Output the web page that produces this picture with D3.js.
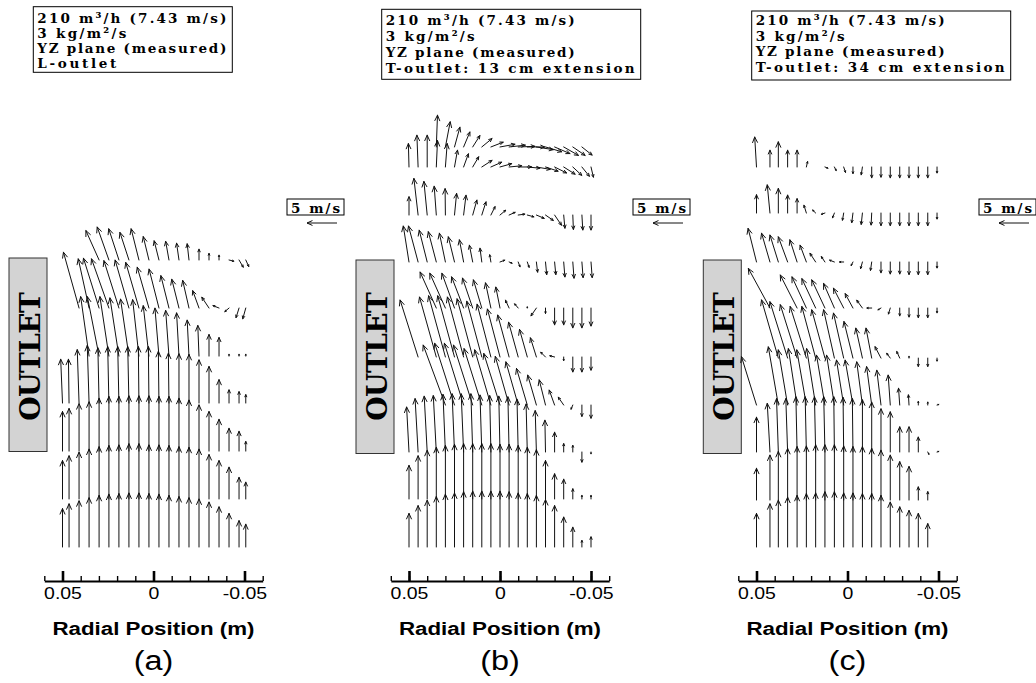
<!DOCTYPE html>
<html>
<head>
<meta charset="utf-8">
<script src="https://cdn.jsdelivr.net/npm/d3@7"></script>
<style>
  body { margin: 0; background: #fff; }
  svg { display: block; }
</style>
</head>
<body>
<svg id="chart" width="1036" height="683"></svg>
<script>
// ---- data (radial position in m, axial level in m, velocities in m/s) ----
// u = radial component (positive towards +r, i.e. to the left), v = axial component (up)

const headerA = ["210 m³/h (7.43 m/s)", "3 kg/m²/s", "YZ plane (measured)", "L-outlet"];
const headerB = ["210 m³/h (7.43 m/s)", "3 kg/m²/s", "YZ plane (measured)", "T-outlet: 13 cm extension"];
const headerC = ["210 m³/h (7.43 m/s)", "3 kg/m²/s", "YZ plane (measured)", "T-outlet: 34 cm extension"];
const panelTags = ["(a)", "(b)", "(c)"];

const tickMinor = [0.06, 0.05, 0.04, 0.03, 0.02, 0.01, 0, -0.01, -0.02, -0.03, -0.04, -0.05, -0.06];
const tickMajor = [0.05, 0, -0.05];
const tickLabels = ["0.05", "0", "-0.05"];

// panel (a)
const colsA = [0.05, 0.0464, 0.0409, 0.0354, 0.0299, 0.0245, 0.019, 0.0135, 0.008, 0.0025,
  -0.003, -0.0085, -0.014, -0.0195, -0.025, -0.0305, -0.036, -0.0415, -0.047, -0.0507];
const levelsA = [0.1577, 0.1313, 0.1049, 0.0791, 0.0527, 0.0264, 0];
const vA = [
  [null, null, null, null, 4.9, 5.5, 5.2, 4.6, 5.2, 3.9, 3.2, 3.1, 2.8, 2.7, 1.8, 1.1, 0.8, -0.2, -1.2, -1.1],
  [null, null, 9.3, 8.2, 8.3, 8.2, 7.9, 8.0, 7.6, 6.8, 6.5, 5.4, 4.8, 4.6, 2.9, 1.8, 0.4, -0.6, -1.6, -1.8],
  [null, null, null, 9.9, 9.9, 9.9, 9.7, 9.5, 9.4, 8.4, 8.0, 7.6, 7.2, 6.0, 5.1, 3.6, 3.1, 0.3, 0.3, 0.3],
  [7.3, 7.3, 8.9, 9.6, 9.2, 9.4, 9.4, 9.4, 9.4, 9.4, 8.6, 8.3, 8.2, 8.1, 7.2, 6.1, 3.9, 2.2, 1.9, 1.4],
  [6.6, 7.1, 7.9, 8.2, 8.8, 9.1, 9.1, 9.2, 9.2, 9.2, 9.1, 9.1, 8.8, 8.5, 7.7, 6.6, 5.3, 3.8, 3.3, 1.6],
  [6.4, 7.2, 7.8, 8.3, 8.7, 8.9, 9.0, 9.2, 9.2, 9.0, 9.0, 8.9, 8.7, 8.6, 8.3, 7.4, 6.4, 5.3, 3.6, 2.8],
  [6.4, 7.2, 7.7, 8.2, 8.6, 8.8, 8.9, 9.0, 9.0, 8.9, 8.8, 8.6, 8.4, 8.2, 8.0, 7.5, 6.7, 5.6, 4.4, 3.8]
];
const uA = [
  [null, null, null, null, 2.2, 1.95, 1.7, 1.5, 1.3, 0.95, 0.8, 0.55, 0.4, 0.3, 0, 0, 0, -0.8, -0.7, -0.5],
  [null, null, 2.6, 1.8, 2.6, 2.9, 2.5, 2.3, 2.2, 1.95, 1.65, 1.35, 1.2, 1.05, 1.05, 1.2, 1.0, 0.7, 0.5, 0.5],
  [null, null, null, 1.4, 1.95, 1.5, 1.5, 1.4, 1.05, 0.95, 0.67, 0.55, 0.4, 0.3, 0.2, 0, 0, 0, 0, 0],
  [0.3, 0.1, 0.3, 0.3, 0.2, 0.2, 0.2, 0.2, 0.1, 0.1, 0.1, 0.1, 0, 0, 0, 0, 0, 0, 0, 0],
  [0, 0, 0, 0, 0, 0, 0, 0, 0, 0, 0, 0, 0, 0, 0, 0, 0, 0, 0, 0],
  [0, 0, 0, 0, 0, 0, 0, 0, 0, 0, 0, 0, 0, 0, 0, 0, 0, 0, 0, 0],
  [0, 0, 0, 0, 0, 0, 0, 0, 0, 0, 0, 0, 0, 0, 0, 0, 0, 0, 0, 0]
];

// panel (b)
const colsB = [0.05, 0.045, 0.04, 0.035, 0.03, 0.025, 0.02, 0.015, 0.01, 0.005, 0,
  -0.005, -0.01, -0.015, -0.02, -0.025, -0.03, -0.035, -0.04, -0.045, -0.05];
const levelsB = [0.2198, 0.2088, 0.1824, 0.1566, 0.1313, 0.1044, 0.078, 0.0522, 0.0264, 0];
const vB = [
  [null, null, null, 5.3, 4.2, 3.3, 2.5, 1.9, 1.4, 0.8, 0.45, 0.3, 0.1, 0, -0.45, -0.8, -1.1, -1.4, -1.4, -1.35, null],
  [3.9, 5.3, 5.3, 4.4, 3.9, 2.8, 2.2, 1.7, 1.1, 0.8, 0.55, 0.2, 0, -0.2, -0.4, -0.7, -1.0, -1.2, -1.4, -1.55, -1.7],
  [3.05, 6.1, 5.6, 4.8, 4.4, 3.6, 3.3, 2.5, 2.2, 1.4, 0.8, 0.45, 0.15, -0.3, -0.55, -0.9, -1.7, -2.2, -2.4, -2.5, -2.5],
  [6.0, 6.0, 5.3, 5.05, 4.8, 4.2, 3.7, 2.8, 2.3, 1.2, 0.3, -0.2, -0.8, -0.9, -1.7, -2.1, -2.1, -2.5, -2.7, -2.6, -2.6],
  [null, null, null, 6.0, 5.8, 5.8, 5.2, 5.0, 4.7, 4.2, 3.5, 1.3, 0.7, 0.2, -1.3, -0.9, -2.8, -2.8, -3.3, -3.3, -3.0],
  [null, 9.5, null, 10.0, 10.2, 10.2, 10.0, 9.7, 9.3, 8.8, 8.0, 7.0, 5.8, 4.6, 3.2, 0.8, 0.2, -0.6, -2.5, -2.5, -2.2],
  [null, null, null, null, 10.0, 10.3, 10.3, 10.0, 9.4, 9.2, 8.6, 8.1, 7.2, 6.1, 5.0, 4.2, 2.5, 1.3, -0.7, -1.9, -2.2],
  [7.5, 8.9, 9.3, 9.4, 9.6, 9.7, 9.7, 9.7, 9.5, 9.4, 9.3, 9.2, 8.8, 8.0, 6.9, 5.3, 3.3, 1.4, 1.1, -1.7, -0.3],
  [5.6, 7.2, 8.1, 8.6, 8.9, 9.1, 9.2, 9.2, 9.2, 9.2, 9.1, 9.1, 8.9, 8.6, 8.2, 6.4, 4.2, 3.3, 1.7, 0.6, 0.6],
  [5.6, 6.9, 7.8, 8.4, 8.8, 9.0, 9.2, 9.3, 9.3, 9.3, 9.3, 9.2, 9.0, 8.9, 8.6, 7.9, 6.9, 5.0, 3.3, 1.1, 1.7]
];
const uB = [
  [null, null, null, -0.2, -0.8, -0.9, -1.05, -1.2, -1.7, -2.05, -2.5, -2.7, -2.8, -2.9, -2.8, -2.7, -2.55, -2.45, -2.05, -1.7, null],
  [0.1, 0.2, 0, -0.2, -0.3, -0.5, -0.8, -1.0, -1.7, -1.8, -1.95, -2.1, -2.25, -2.1, -2.3, -2.1, -2.0, -1.9, -1.5, -1.25, -0.4],
  [0, 0.7, 0.55, 0.35, 0.05, -0.35, -0.4, -0.7, -0.7, -0.7, -0.95, -1.0, -1.1, -1.1, -1.3, -1.3, -1.15, -0.2, -0.1, -0.15, 0],
  [0.95, 1.6, 1.33, 1.33, 1.0, 1.03, 0.7, 0.55, 0.3, 0.2, -0.8, -0.5, -0.3, -0.3, -0.2, -0.2, -0.2, -0.2, -0.2, -0.2, -0.2],
  [null, null, null, 2.7, 2.6, 2.1, 2.0, 1.7, 1.4, 0.9, 0.7, 0.6, 0.6, 0, 0.9, 0, 0, 0, 0, 0, 0],
  [null, 3.0, null, 2.8, 2.8, 2.8, 2.7, 2.6, 2.5, 2.3, 2.1, 1.9, 1.6, 1.3, 1.0, 0.8, 0.8, 0, 0, 0, 0],
  [null, null, null, null, 3.7, 3.3, 3.2, 3.2, 2.95, 2.7, 2.7, 2.3, 2.05, 1.8, 1.45, 1.05, 0.9, 0.9, 0.3, 0, 0],
  [0.4, 0.5, 0.5, 0.5, 0.4, 0.4, 0.4, 0.3, 0.3, 0.2, 0.2, 0.2, 0.2, 0.2, 0.2, 0.1, 0, 0, 0, 0, 0],
  [0, 0, 0, 0, 0, 0, 0, 0, 0, 0, 0, 0, 0, 0, 0, 0, 0, 0, 0, 0, 0],
  [0, 0, 0, 0, 0, 0, 0, 0, 0, 0, 0, 0, 0, 0, 0, 0, 0, 0, 0, 0, 0]
];

// panel (c)
const colsC = [0.05, 0.0426, 0.038, 0.0329, 0.0277, 0.0226, 0.0175, 0.0124, 0.0072, 0.0021,
  -0.003, -0.0082, -0.0133, -0.0184, -0.0235, -0.0287, -0.0338, -0.0389, -0.0441, -0.0492];
const levelsC = [0.2088, 0.1835, 0.1566, 0.1313, 0.1038, 0.078, 0.0522, 0.0258, 0];
const vC = [
  [5.0, 2.8, 4.2, 2.8, 2.8, 0.9, null, -0.2, -0.6, -0.9, -1.1, -1.3, -1.8, -1.7, -1.8, -1.8, -1.8, -1.8, -1.8, -1.0],
  [3.05, 4.7, 4.1, 3.0, 2.4, 1.3, 0.5, -0.2, -0.8, -1.2, -1.6, -1.9, -2.0, -2.1, -2.1, -2.1, -2.1, -2.1, -2.1, -1.0],
  [5.6, 4.8, 4.5, 4.2, 3.7, 2.8, 1.45, 0.9, 0.3, 0, -0.6, -1.1, -1.4, -1.8, -2.0, -2.0, -2.1, -2.1, -2.1, -1.0],
  [null, 6.6, null, null, 5.5, 5.2, 4.9, 4.7, 4.1, 3.3, 2.4, 1.3, 0, -0.3, -1.0, -1.3, -1.5, -1.6, -1.6, -0.8],
  [null, null, 9.7, 9.4, 8.9, 8.6, 8.6, 8.05, 8.05, 7.5, 6.1, 5.0, 5.0, 1.9, 0.8, 1.1, 0.3, -1.4, -1.4, -0.5],
  [8.05, null, 9.7, 9.2, 9.4, 9.2, 9.4, 8.3, 8.3, 7.5, 7.5, 7.2, 6.4, 5.8, 5.0, 2.8, 1.7, 0.6, 0.5, 0.1],
  [5.8, 8.1, 8.9, 8.9, 9.2, 9.2, 9.2, 9.2, 9.2, 9.1, 8.9, 8.7, 8.3, 7.2, 6.7, 4.2, 4.2, 2.5, -0.4, 0.1],
  [5.3, 7.5, 8.1, 8.6, 8.9, 9.0, 9.2, 9.2, 9.2, 9.0, 8.9, 8.9, 8.6, 8.3, 7.5, 6.4, 5.6, 2.2, 1.4, null],
  [5.6, 7.2, 7.8, 8.3, 8.6, 8.9, 9.0, 9.2, 9.2, 9.0, 9.0, 8.9, 8.9, 8.6, 7.5, 6.7, 6.1, 5.6, 3.9, null]
];
const uC = [
  [0.3, 0, 0, 0, 0, -0.2, null, -0.5, -0.3, -0.3, 0, 0.2, 0, 0, 0, 0, 0, 0, 0, 0],
  [0, 0.45, 0, 0, 0, 0.4, 0.5, 0.6, 0.3, 0.2, 0.2, 0.2, 0.1, 0, 0, 0, 0, 0, 0, 0],
  [1.4, 1.4, 1.4, 1.55, 1.2, 1.05, 0.95, 0.6, 0.8, 0.7, 0.3, 0.3, 0.2, 0, 0, 0, 0, 0, 0, 0],
  [null, 3.6, null, null, 2.8, 2.4, 2.3, 2.2, 1.8, 1.7, 1.3, 0.95, 0.8, 0.5, 0.3, 0, 0, 0, 0, 0],
  [null, null, 2.8, 2.95, 2.8, 2.7, 2.3, 2.2, 1.8, 1.7, 1.5, 1.1, 0.95, 1.0, 0.6, 0.5, 0, 0, 0, 0],
  [2.5, null, 1.67, 1.55, 1.45, 1.6, 1.5, 1.4, 1.3, 1.2, 1.3, 0.95, 0.85, 0.7, 0.35, 0.2, 0.1, 0, 0, -0.3],
  [0, 0.45, 0.3, 0.3, 0.2, 0.2, 0.2, 0.2, 0.1, 0.1, 0.1, 0, 0, 0, 0, 0, 0, 0, -0.2, -0.3],
  [0, 0, 0, 0, 0, 0, 0, 0, 0, 0, 0, 0, 0, 0, 0, 0, 0, 0, 0, 0],
  [0, 0, 0, 0, 0, 0, 0, 0, 0, 0, 0, 0, 0, 0, 0, 0, 0, 0, 0, 0]
];

const refSpeed = 5; // m/s, reference vector

// ---- layout ----
const slab = '"DejaVu Serif", "Liberation Serif", serif';
const sans = '"Liberation Sans", Arial, Helvetica, sans-serif';
const pxPerM = 1820;
const axisY = 581;

const panels = [
  { cx: 153.5, cols: colsA, levels: levelsA, v: vA, u: uA, header: headerA,
    hx: 33.3, hy: 6.7, hh: 65.6, base: [22.7, 37.7, 53.2, 68.3], outlet: 9, outletTop: 258, ref: 287 },
  { cx: 500, cols: colsB, levels: levelsB, v: vB, u: uB, header: headerB,
    hx: 381.7, hy: 9.3, hh: 70, base: [25, 40.5, 56.5, 72.5], outlet: 356, outletTop: 260, ref: 633 },
  { cx: 847.5, cols: colsC, levels: levelsC, v: vC, u: uC, header: headerC,
    hx: 751.7, hy: 11, hh: 69, base: [25.3, 40.5, 56, 71.5], outlet: 703.3, outletTop: 260, ref: 979 }
];

const svg = d3.select('#chart');
svg.append('rect').attr('width', 1036).attr('height', 683).attr('fill', '#fff');

const y = d3.scaleLinear().domain([0, 0.22]).range([547, 547 - 0.22 * pxPerM]);
const vel = d3.scaleLinear().domain([0, 5]).range([0, 30]);

function stretch(sel, k) {
  sel.each(function () {
    const w = this.getComputedTextLength();
    d3.select(this).attr('textLength', w * k).attr('lengthAdjust', 'spacingAndGlyphs');
  });
}

// typewriter-like label: a slab serif spaced out to a fixed advance per character
function typeText(parent, str, x0, yb, cell, size) {
  return parent.append('text')
    .attr('x', x0).attr('y', yb)
    .attr('textLength', Array.from(str).length * cell - 1)
    .attr('lengthAdjust', 'spacing')
    .style('font-family', slab).style('font-weight', 'bold').style('font-size', size + 'px')
    .attr('fill', '#000')
    .text(str);
}

function arrowPath(x0, y0, x1, y1) {
  const dx = x1 - x0, dy = y1 - y0;
  const len = Math.hypot(dx, dy);
  if (len < 0.3) return `M${x0},${y0}L${x0 + 0.5},${y0}`;
  const a = Math.atan2(dy, dx);
  const h = Math.min(6, 0.22 * len + 0.5);
  const phi = 24 * Math.PI / 180;
  const p1 = [x1 - h * Math.cos(a - phi), y1 - h * Math.sin(a - phi)];
  const p2 = [x1 - h * Math.cos(a + phi), y1 - h * Math.sin(a + phi)];
  return `M${x0},${y0}L${x1},${y1}M${p1[0]},${p1[1]}L${x1},${y1}L${p2[0]},${p2[1]}`;
}

panels.forEach((p, i) => {
  const x = d3.scaleLinear().domain([0.06, -0.06])
    .range([p.cx - 0.06 * pxPerM, p.cx + 0.06 * pxPerM]);
  const g = svg.append('g');

  // header box
  const hg = g.append('g');
  const maxChars = d3.max(p.header, d => Array.from(d).length);
  hg.append('rect')
    .attr('x', p.hx).attr('y', p.hy).attr('width', maxChars * 10 + 9).attr('height', p.hh)
    .attr('fill', '#fff').attr('stroke', '#000').attr('stroke-width', 1);
  p.header.forEach((line, j) => typeText(hg, line, p.hx + 4, p.base[j], 10, 13.5));

  // reference vector
  const rg = g.append('g');
  rg.append('rect').attr('x', p.ref).attr('y', 199).attr('width', 57).attr('height', 16)
    .attr('fill', '#fff').attr('stroke', '#000').attr('stroke-width', 1);
  typeText(rg, '5 m/s', p.ref + 4, 212.5, 10, 13.5);
  const rx = p.ref + 20 + vel(refSpeed);
  rg.append('path').attr('d', arrowPath(rx, 223, rx - vel(refSpeed), 223))
    .attr('fill', 'none').attr('stroke', '#111').attr('stroke-width', 1);

  // outlet box
  g.append('rect').attr('x', p.outlet).attr('y', p.outletTop).attr('width', 38).attr('height', 193.5)
    .attr('fill', '#d3d3d3').attr('stroke', '#333').attr('stroke-width', 1);
  const og = g.append('g').attr('transform', `translate(${p.outlet + 31},356.7) rotate(-90)`);
  typeText(og, 'OUTLET', -64, 0, 21.6, 28);

  // vectors
  const cells = [];
  p.levels.forEach((z, r) => {
    p.cols.forEach((c, k) => {
      const vv = p.v[r][k];
      if (vv === null || vv === undefined) return;
      cells.push({ c, z, v: vv, u: p.u[r][k] || 0 });
    });
  });
  g.append('g').selectAll('path').data(cells).enter().append('path')
    .attr('d', d => {
      const x0 = x(d.c), y0 = y(d.z);
      return arrowPath(x0, y0, x0 - vel(d.u), y0 - vel(d.v));
    })
    .attr('fill', 'none').attr('stroke', '#111').attr('stroke-width', 1)
    .attr('stroke-linecap', 'round').attr('stroke-linejoin', 'round');

  // axis: minor ticks + line
  const ga = g.append('g').attr('transform', `translate(0,${axisY})`);
  ga.call(d3.axisBottom(x).tickValues(tickMinor).tickSize(-5).tickSizeOuter(0).tickFormat(''));
  ga.select('.domain').attr('stroke', '#000').attr('stroke-width', 2);
  ga.selectAll('.tick line').attr('stroke', '#000').attr('stroke-width', 1.4);

  // major ticks with labels
  const gm = g.append('g').attr('transform', `translate(0,${axisY})`);
  gm.call(d3.axisBottom(x).tickValues(tickMajor).tickSize(-10).tickSizeOuter(0).tickPadding(6)
    .tickFormat((d, j) => tickLabels[j]));
  gm.select('.domain').remove();
  gm.selectAll('.tick line').attr('stroke', '#000').attr('stroke-width', 2.6);
  gm.selectAll('.tick text')
    .attr('fill', '#000')
    .style('font-family', sans).style('font-size', '16.5px');
  stretch(gm.selectAll('.tick text'), 1.18);

  // axis title and panel tag
  const t1 = g.append('text').attr('x', p.cx).attr('y', 635).attr('text-anchor', 'middle')
    .style('font-family', sans).style('font-weight', 'bold').style('font-size', '18px')
    .text('Radial Position (m)');
  stretch(t1, 1.24);
  const t2 = g.append('text').attr('x', p.cx).attr('y', 670).attr('text-anchor', 'middle')
    .style('font-family', sans).style('font-size', '27px')
    .text(panelTags[i]);
  stretch(t2, 1.2);
});
</script>
</body>
</html>
